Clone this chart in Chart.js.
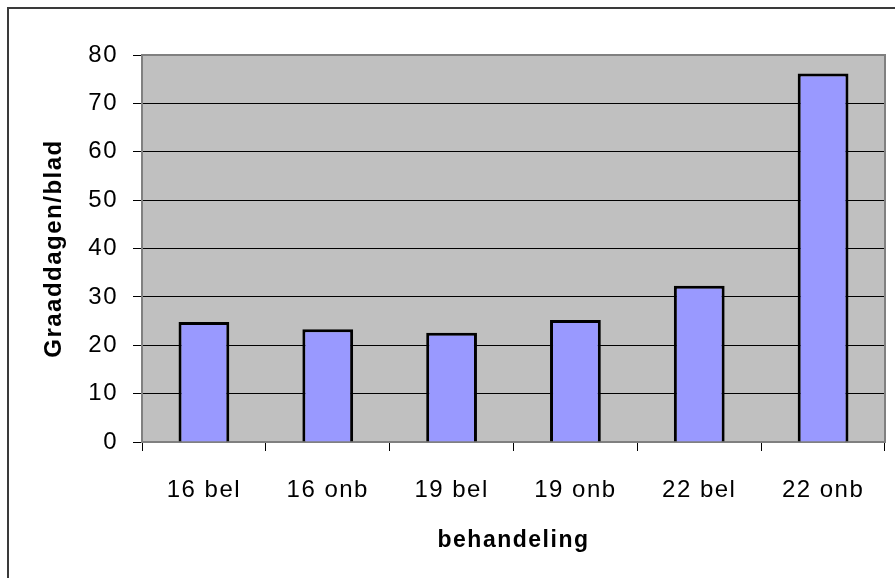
<!DOCTYPE html>
<html>
<head>
<meta charset="utf-8">
<script src="https://cdn.jsdelivr.net/npm/chart.js@4.4.0/dist/chart.umd.min.js"></script>
<style>
  html, body { margin: 0; padding: 0; background: #fff; }
  #wrap { width: 895px; height: 578px; }
</style>
</head>
<body>
<div id="wrap"><canvas id="graaddagenChart" width="895" height="578"></canvas></div>
<script>
const categories = ['16 bel', '16 onb', '19 bel', '19 onb', '22 bel', '22 onb'];
const graaddagen = [24.8, 23.3, 22.6, 25.2, 32.3, 76.2];
const yMin = 0;
const yMax = 80;
const yStep = 10;

// grijze plotachtergrond en rand zoals in Excel
const excelLook = {
    id: 'excelLook',
    beforeDraw(chart) {
        const { ctx, chartArea: a } = chart;
        ctx.save();
        ctx.fillStyle = '#C0C0C0';
        ctx.fillRect(a.left, a.top, a.right - a.left, a.bottom - a.top);
        ctx.restore();
        // buitenrand van de grafiek
        ctx.save();
        ctx.strokeStyle = '#3a3a3a';
        ctx.lineWidth = 2;
        ctx.strokeRect(8, 8, 920, 620);
        ctx.restore();
        ctx.letterSpacing = '1.5px';
    },
    beforeDatasetsDraw(chart) {
        const { ctx, chartArea: a } = chart;
        ctx.save();
        ctx.strokeStyle = '#808080';
        ctx.lineWidth = 2;
        ctx.strokeRect(a.left, a.top, a.right - a.left, a.bottom - a.top);
        ctx.restore();
    },
    afterDraw(chart) {
        chart.ctx.letterSpacing = '0px';
    }
};

const ctx = document.getElementById('graaddagenChart');

new Chart(ctx, {
    type: 'bar',
    data: {
        labels: categories,
        datasets: [{
            label: 'Graaddagen/blad',
            data: graaddagen,
            backgroundColor: '#9999FF',
            borderColor: '#000000',
            borderWidth: 3,
            categoryPercentage: 1,
            barPercentage: 0.41
        }]
    },
    options: {
        responsive: false,
        animation: false,
        layout: {
            padding: { left: 0, top: 55, right: 10, bottom: 0 }
        },
        scales: {
            x: {
                afterFit(scale) { scale.height = 136; },
                grid: {
                    offset: true,
                    drawOnChartArea: false,
                    drawTicks: true,
                    tickLength: 9,
                    color: '#000000'
                },
                border: { color: '#808080', width: 2 },
                ticks: {
                    color: '#000000',
                    padding: 25,
                    font: { family: 'Liberation Sans, Arial', size: 24 }
                },
                title: {
                    display: true,
                    text: 'behandeling',
                    color: '#000000',
                    padding: { top: 0, bottom: 24 },
                    font: { family: 'Liberation Sans, Arial', size: 23, weight: 'bold' }
                }
            },
            y: {
                min: yMin,
                max: yMax,
                afterFit(scale) { scale.width = 142; },
                grid: {
                    color: '#000000',
                    lineWidth: 1,
                    tickLength: 9
                },
                border: { color: '#808080', width: 2 },
                ticks: {
                    stepSize: yStep,
                    color: '#000000',
                    padding: 15,
                    font: { family: 'Liberation Sans, Arial', size: 24 }
                },
                title: {
                    display: true,
                    text: 'Graaddagen/blad',
                    color: '#000000',
                    padding: { top: 40, bottom: 0 },
                    font: { family: 'Liberation Sans, Arial', size: 24, weight: 'bold' }
                }
            }
        },
        plugins: {
            legend: { display: false },
            tooltip: { enabled: false }
        }
    },
    plugins: [excelLook]
});
</script>
</body>
</html>
